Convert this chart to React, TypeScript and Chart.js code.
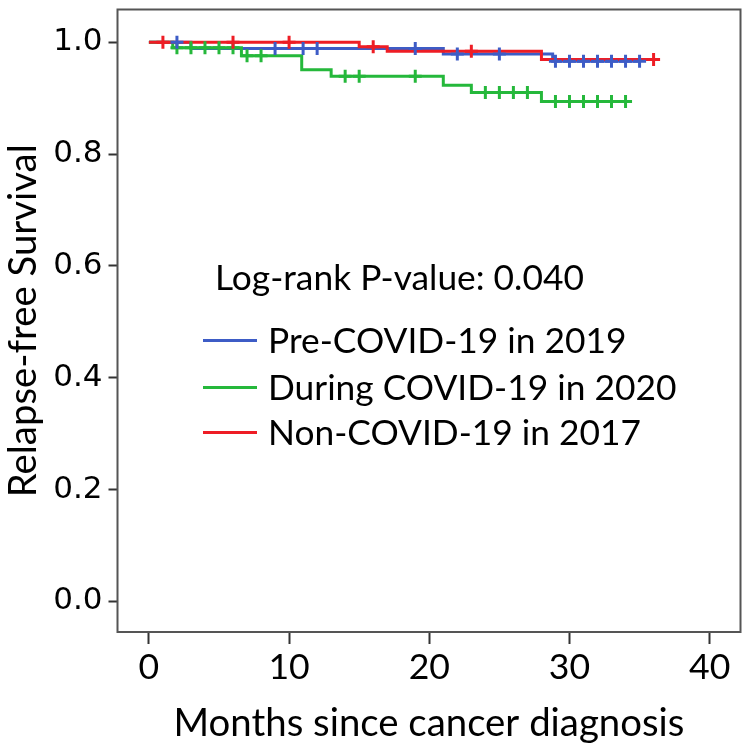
import React, { useEffect, useRef, useState } from 'react';
import { Chart, registerables } from 'chart.js';
Chart.register(...registerables);

// ---- data ----
const xTickValues = [0, 10, 20, 30, 40];
const yTickValues = [0.0, 0.2, 0.4, 0.6, 0.8, 1.0];

const seriesNames = ['Pre-COVID-19 in 2019', 'During COVID-19 in 2020', 'Non-COVID-19 in 2017'];
const seriesColors = ['#3d5cc6', '#25b83b', '#ee1d25'];

const preTimes = [0, 3, 21, 28.8, 35];
const preSurv = [1.0, 0.989, 0.979, 0.966, 0.966];
const preCensor = [2, 9, 11, 12, 19, 22, 25, 29, 30, 31, 32, 33, 34, 35];

const duringTimes = [0, 1.7, 6.6, 10.9, 13, 21, 23, 28, 34.4];
const duringSurv = [1.0, 0.99, 0.976, 0.951, 0.939, 0.923, 0.91, 0.894, 0.894];
const duringCensor = [2, 3, 4, 5, 6, 7, 8, 14, 15, 19, 24, 25, 26, 27, 29, 30, 31, 32, 33, 34];

const nonTimes = [0, 15, 17, 28, 36];
const nonSurv = [1.0, 0.992, 0.984, 0.969, 0.969];
const nonCensor = [1, 6, 10, 16, 23, 36];

const pValueText = 'Log-rank P-value: 0.040';
const xTitle = 'Months since cancer diagnosis';
const yTitle = 'Relapse-free Survival';

const FONT = 'Lato';

function survAt(times: number[], surv: number[], t: number) {
  let v = surv[0];
  for (let i = 0; i < times.length; i++) if (times[i] <= t) v = surv[i];
  return v;
}

function fontScale(): number {
  const ctx = document.createElement('canvas').getContext('2d');
  if (!ctx) return 1;
  ctx.font = `100px ${FONT}`;
  const w = ctx.measureText(pValueText).width;
  return 953.8 / w;
}

export default function App() {
  const ref = useRef<HTMLCanvasElement | null>(null);
  const [k] = useState(() => fontScale());

  useEffect(() => {
    document.body.style.margin = '0';
    const canvas = ref.current;
    if (!canvas) return;

    const lines = [
      { times: nonTimes, surv: nonSurv, color: seriesColors[2] },
      { times: duringTimes, surv: duringSurv, color: seriesColors[1] },
      { times: preTimes, surv: preSurv, color: seriesColors[0] },
    ];
    const censors = [
      { times: preTimes, surv: preSurv, c: preCensor, color: seriesColors[0] },
      { times: nonTimes, surv: nonSurv, c: nonCensor, color: seriesColors[2] },
      { times: duringTimes, surv: duringSurv, c: duringCensor, color: seriesColors[1] },
    ];

    const datasets: any[] = [];
    censors.forEach((s) => {
      datasets.push({
        type: 'line',
        showLine: false,
        data: s.c.map((t) => ({ x: t, y: survAt(s.times, s.surv, t) })),
        pointStyle: 'cross',
        pointRadius: 6.5,
        pointBorderWidth: 3,
        borderColor: s.color,
        backgroundColor: s.color,
      });
    });
    lines.forEach((s) => {
      datasets.push({
        type: 'line',
        data: s.times.map((t, i) => ({ x: t, y: s.surv[i] })),
        stepped: true,
        borderColor: s.color,
        borderWidth: 3,
        pointRadius: 0,
        fill: false,
      });
    });

    const frame = {
      id: 'frame',
      afterDraw(chart: any) {
        const { ctx, chartArea: a } = chart;
        ctx.save();
        ctx.strokeStyle = '#555';
        ctx.lineWidth = 2;
        ctx.strokeRect(a.left, a.top, a.right - a.left, a.bottom - a.top);
        ctx.restore();
      },
    };

    const chart = new Chart(canvas, {
      type: 'line',
      data: { datasets },
      plugins: [frame],
      options: {
        animation: false,
        responsive: false,
        devicePixelRatio: 1,
        layout: { padding: { top: 5, right: 7, left: 0, bottom: 0 } },
        plugins: { legend: { display: false }, tooltip: { enabled: false } },
        scales: {
          x: {
            type: 'linear',
            min: -2.24,
            max: 42.2,
            afterBuildTicks: (s: any) => {
              s.ticks = xTickValues.map((v) => ({ value: v }));
            },
            afterFit: (s: any) => {
              s.height = 120;
              s.paddingLeft = 0;
              s.paddingRight = 0;
            },
            grid: { drawOnChartArea: false, tickLength: 12, tickColor: '#333', tickWidth: 2 },
            border: { display: false },
            ticks: {
              color: '#000',
              padding: 2,
              font: { family: FONT, size: 39 * k },
              callback: (v: any) => String(v),
            },
            title: {
              display: true,
              text: xTitle,
              color: '#000',
              font: { family: FONT, size: 42 * k },
              padding: { top: 0, bottom: 5 },
            },
          },
          y: {
            type: 'linear',
            min: -0.055,
            max: 1.0586,
            afterBuildTicks: (s: any) => {
              s.ticks = yTickValues.map((v) => ({ value: v }));
            },
            afterFit: (s: any) => {
              s.width = 117.5;
              s.paddingTop = 0;
              s.paddingBottom = 0;
            },
            grid: { drawOnChartArea: false, tickLength: 9, tickColor: '#333', tickWidth: 2 },
            border: { display: false },
            ticks: {
              color: '#000',
              padding: 6,
              font: { family: 'DejaVu Sans', size: 31 },
              callback: (v: any) => Number(v).toFixed(1),
            },
            title: {
              display: true,
              text: yTitle,
              color: '#000',
              font: { family: FONT, size: 42 * k },
              padding: { top: 1, bottom: 0 },
            },
          },
        },
      },
    } as any);
    return () => chart.destroy();
  }, [k]);

  const legendSize = 38.7 * k;
  const rows = [340, 387, 432];
  return (
    <div style={{ position: 'fixed', left: 0, top: 0, width: 750, height: 752, background: '#fff' }}>
      <canvas ref={ref} width={750} height={752} style={{ position: 'absolute', left: 0, top: 0, width: 750, height: 752 }} />
      <div
        style={{
          position: 'absolute',
          left: 215,
          top: 277 - legendSize / 2,
          fontFamily: FONT,
          fontSize: legendSize,
          lineHeight: `${legendSize}px`,
          color: '#000',
          whiteSpace: 'nowrap',
        }}
      >
        {pValueText}
      </div>
      {seriesNames.map((n, i) => (
        <div key={n}>
          <div
            style={{
              position: 'absolute',
              left: 203,
              width: 54,
              top: rows[i] - 1.5,
              height: 3,
              background: seriesColors[i],
            }}
          />
          <div
            style={{
              position: 'absolute',
              left: 268,
              top: rows[i] - legendSize / 2,
              fontFamily: FONT,
              fontSize: legendSize,
              lineHeight: `${legendSize}px`,
              color: '#000',
              whiteSpace: 'nowrap',
            }}
          >
            {n}
          </div>
        </div>
      ))}
    </div>
  );
}
